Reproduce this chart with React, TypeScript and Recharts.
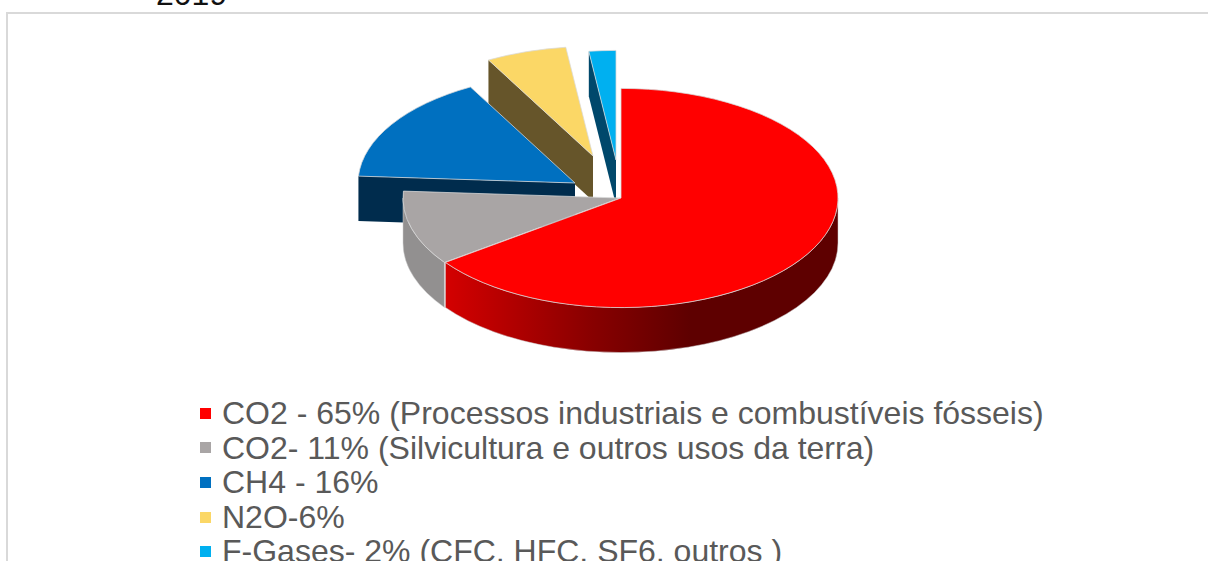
import { PieChart, Pie, Legend } from "recharts";

const categories = [
	"CO2 - 65% (Processos industriais e combustíveis fósseis)",
	"CO2- 11% (Silvicultura e outros usos da terra)",
	"CH4 - 16%",
	"N2O-6%",
	"F-Gases- 2% (CFC, HFC, SF6, outros )",
];
const shares = [65, 11, 16, 6, 2];

const topColors = ["#FF0000", "#A9A5A5", "#0070C0", "#FBD766", "#00B0F0"];
const wallColors = ["url(#redWall)", "#929090", "#002C4D", "#66552A", "#00486B"];
// how far each slice is pulled out of the pie, in px
const offsets = [
	[0, 0],
	[-1, 0],
	[-46, -15],
	[-28, -42],
	[-5, -38],
];

const SQUASH = 0.505;
const DEPTH = 45;

// drawn back to front: the table runs counter-clockwise from the last slice
const pieData = categories
	.map((name, i) => ({ name, value: shares[i], fill: topColors[i], slice: i }))
	.reverse();

function Slice3D(props: any) {
	const { cx, cy, outerRadius: r, startAngle, endAngle, slice, fill } = props;
	const [dx, dy] = offsets[slice];
	const ox = cx + dx;
	const oy = cy + dy;
	const ry = r * SQUASH;
	const pt = (a: number) => {
		const rad = (a * Math.PI) / 180;
		return [ox + r * Math.cos(rad), oy - ry * Math.sin(rad)];
	};
	const [sx, sy] = pt(startAngle);
	const [ex, ey] = pt(endAngle);
	const large = endAngle - startAngle > 180 ? 1 : 0;
	const top = `M${ox},${oy} L${sx},${sy} A${r},${ry} 0 ${large} 0 ${ex},${ey} Z`;

	// outer wall only shows on the front half
	const wallFrom = Math.max(startAngle, 180);
	const wallTo = Math.min(endAngle, 360);
	let wall = null;
	if (wallTo > wallFrom) {
		const [ax, ay] = pt(wallFrom);
		const [bx, by] = pt(wallTo);
		wall = `M${ax},${ay} A${r},${ry} 0 0 0 ${bx},${by} L${bx},${by + DEPTH} A${r},${ry} 0 0 1 ${ax},${ay + DEPTH} Z`;
	}
	// cut face looks at the viewer only for an edge on the upper left
	let face = null;
	if (endAngle > 90 && endAngle < 180) {
		face = `M${ox},${oy} L${ex},${ey} L${ex},${ey + DEPTH} L${ox},${oy + DEPTH} Z`;
	}

	return (
		<g>
			<defs>
				<linearGradient id='redWall' gradientUnits='userSpaceOnUse' x1={445} y1={0} x2={690} y2={0}>
					<stop offset='0%' stopColor='#D40000' />
					<stop offset='60%' stopColor='#880000' />
					<stop offset='100%' stopColor='#5E0000' />
				</linearGradient>
			</defs>
			{face && <path d={face} fill={wallColors[slice]} />}
			{wall && <path d={wall} fill={wallColors[slice]} stroke='#cfcfcf' strokeWidth={0.5} />}
			<path d={top} fill={fill} stroke='#d9d9d9' strokeWidth={0.75} />
		</g>
	);
}

function LegendList({ payload }: any) {
	const items = [...(payload || [])].sort(
		(a, b) => categories.indexOf(a.value) - categories.indexOf(b.value),
	);
	return (
		<div>
			{items.map((item) => (
				<div
					key={item.value}
					style={{ height: 34.6, lineHeight: "34.6px", whiteSpace: "nowrap", display: "flex", alignItems: "center" }}>
					<span style={{ width: 11, height: 11, background: item.color, marginRight: 11, flex: "none" }} />
					<span>{item.value}</span>
				</div>
			))}
		</div>
	);
}

export default function App() {
	return (
		<div style={{ position: "fixed", left: 0, top: 0, width: 1208, height: 561, overflow: "hidden", background: "#fff" }}>
			<div
				style={{
					position: "absolute",
					left: 156,
					top: -24,
					fontFamily: "'Liberation Sans', Arial, sans-serif",
					fontSize: 32,
					lineHeight: "37px",
					color: "#111",
				}}>
				2019
			</div>
			<div
				style={{
					position: "absolute",
					left: 6,
					top: 12,
					width: 1210,
					height: 570,
					border: "2px solid #d9d9d9",
					boxSizing: "border-box",
				}}
			/>
			<div style={{ position: "absolute", left: 0, top: 0, width: 1208, height: 561 }}>
				<PieChart width={1208} height={561} margin={{ top: 0, right: 0, bottom: 0, left: 0 }}>
					<Pie
						data={pieData}
						dataKey='value'
						nameKey='name'
						cx={621}
						cy={198}
						outerRadius={217}
						startAngle={90}
						endAngle={450}
						shape={Slice3D}
						isAnimationActive={false}
						legendType='square'
					/>
					<Legend
						content={<LegendList />}
						layout='horizontal'
						verticalAlign='bottom'
						align='center'
						wrapperStyle={{
							left: 200,
							top: 396,
							bottom: "auto",
							width: 1000,
							fontFamily: "'Liberation Sans', Arial, sans-serif",
							fontSize: 32,
							color: "#595959",
						}}
					/>
				</PieChart>
			</div>
		</div>
	);
}
